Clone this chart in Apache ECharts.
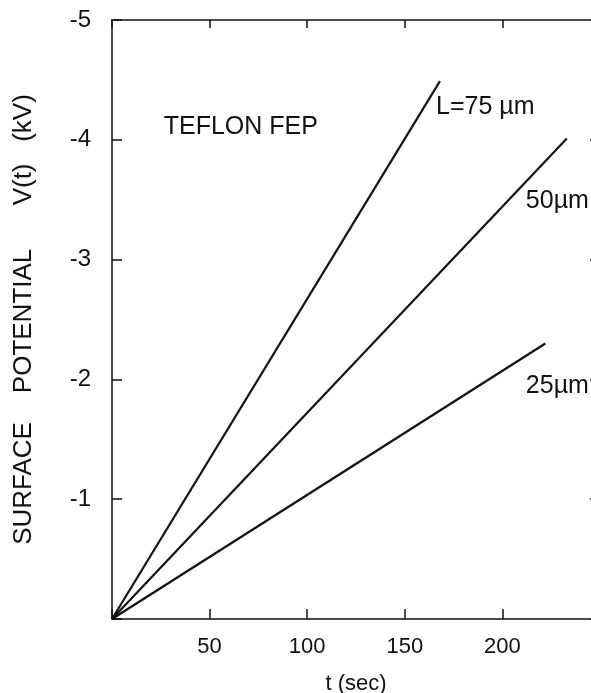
<!DOCTYPE html>
<html>
<head>
<meta charset="utf-8">
<script src="https://cdn.jsdelivr.net/npm/echarts@6/dist/echarts.min.js"></script>
<style>
html,body{margin:0;padding:0;background:#fff;overflow:hidden;}
#c{width:601px;height:693px;}
</style>
</head>
<body>
<div id="c"></div>
<script>
// ---- data ----
var seriesNames = ['L=75 \u00b5m', '50\u00b5m', '25\u00b5m'];
var line75 = [[0, 0], [168, -4.49]];
var line50 = [[0, 0], [233, -4.01]];
var line25 = [[0, 0], [222, -2.3]];
var xTicks = [0, 50, 100, 150, 200, 250];
var yTicks = [-5, -4, -3, -2, -1, 0];
// annotation anchors (data coords, text left-middle)
var annTexts = ['TEFLON FEP', 'L=75 \u00b5m', '50\u00b5m', '25\u00b5m'];
var annPos = [[26.5, -4.11], [166, -4.27], [212, -3.49], [212, -1.94]];
var annSize = [25, 25, 25, 25];

var FONT = '"Liberation Sans", Arial, sans-serif';
var INK = '#111';

var chart = echarts.init(document.getElementById('c'));
function lineSeries(name, data) {
  return {
    name: name, type: 'line', data: data, showSymbol: false,
    lineStyle: { color: INK, width: 2.2 }, silent: true, animation: false,
    xAxisIndex: 0, yAxisIndex: 0
  };
}
var axLine = { show: true, onZero: false, lineStyle: { color: INK, width: 1.5 } };
var option = {
  backgroundColor: '#fff',
  animation: false,
  grid: { left: 112, right: 1, top: 20, bottom: 74, containLabel: false, outerBoundsMode: 'none' },
  xAxis: [{
    type: 'value', min: xTicks[0], max: xTicks[xTicks.length - 1], interval: 50,
    position: 'bottom',
    name: 't (sec)', nameLocation: 'middle', nameGap: 54,
    nameTextStyle: { fontFamily: FONT, fontSize: 22, color: INK },
    axisLine: axLine,
    axisTick: { show: true, inside: true, length: 10, lineStyle: { color: INK, width: 1.5 } },
    axisLabel: {
      margin: 17, fontFamily: FONT, fontSize: 22, color: INK,
      formatter: function (v) { return (v === 0 || v === 250) ? '' : String(v); }
    },
    splitLine: { show: false }
  }, {
    type: 'value', min: xTicks[0], max: xTicks[xTicks.length - 1], interval: 50,
    position: 'top',
    axisLine: axLine,
    axisTick: { show: true, inside: true, length: 8, lineStyle: { color: INK, width: 1.5 } },
    axisLabel: { show: false }, splitLine: { show: false }
  }],
  yAxis: [{
    type: 'value', min: yTicks[0], max: yTicks[yTicks.length - 1], interval: 1,
    inverse: true, position: 'left',
    name: 'SURFACE    POTENTIAL      V(t)   (kV)', nameLocation: 'middle', nameGap: 75,
    nameTextStyle: { fontFamily: FONT, fontSize: 26, color: INK },
    axisLine: axLine,
    axisTick: { show: true, inside: true, length: 10, lineStyle: { color: INK, width: 1.5 } },
    axisLabel: {
      margin: 21, fontFamily: FONT, fontSize: 24, color: INK,
      formatter: function (v) { return v === 0 ? '' : String(v); }
    },
    splitLine: { show: false }
  }, {
    type: 'value', min: yTicks[0], max: yTicks[yTicks.length - 1], interval: 1,
    inverse: true, position: 'right',
    axisLine: axLine,
    axisTick: { show: true, inside: true, length: 10, lineStyle: { color: INK, width: 1.5 } },
    axisLabel: { show: false }, splitLine: { show: false }
  }],
  series: [
    lineSeries(seriesNames[0], line75),
    lineSeries(seriesNames[1], line50),
    lineSeries(seriesNames[2], line25)
  ]
};
chart.setOption(option);

var graphics = annTexts.map(function (t, i) {
  var p = chart.convertToPixel({ gridIndex: 0 }, annPos[i]);
  return {
    type: 'text', x: p[0], y: p[1], silent: true,
    style: { text: t, fill: INK, font: annSize[i] + 'px ' + FONT, align: 'left', verticalAlign: 'middle' }
  };
});
chart.setOption({ graphic: graphics });
</script>
</body>
</html>
